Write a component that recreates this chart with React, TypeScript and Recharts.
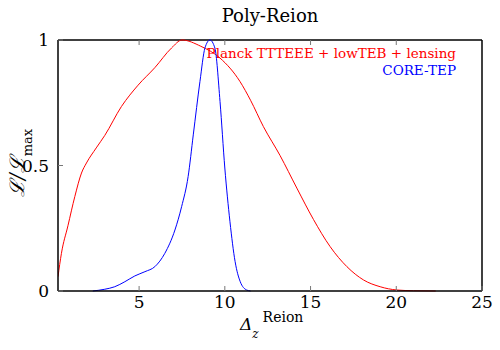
import { LineChart, Line, XAxis, YAxis, ReferenceLine } from 'recharts'

// Planck TTTEEE + lowTEB + lensing (red)
const planckX = [0.27, 0.47, 0.85, 1.25, 1.64, 1.93, 2.5, 3.0, 3.97, 4.94, 5.92, 6.89, 7.5, 8.6, 9.72, 10.88, 11.5, 12.25, 13.22, 14.2, 15.17, 16.14, 17.12, 18.09, 19.06, 20.03, 21.0, 22.3]
const planckY = [0.057, 0.15, 0.26, 0.376, 0.47, 0.51, 0.57, 0.62, 0.735, 0.82, 0.89, 0.968, 1.0, 0.975, 0.928, 0.835, 0.76, 0.655, 0.54, 0.41, 0.285, 0.177, 0.097, 0.044, 0.017, 0.004, 0.001, 0]

// CORE-TEP (blue)
const coreX = [2.3, 3.0, 3.58, 4.17, 4.75, 5.34, 5.92, 6.5, 7.09, 7.48, 7.86, 8.16, 8.55, 8.84, 9.13, 9.42, 9.72, 10.0, 10.3, 10.6, 10.9, 11.27, 11.5]
const coreY = [0, 0.007, 0.017, 0.037, 0.06, 0.077, 0.097, 0.15, 0.243, 0.336, 0.456, 0.622, 0.835, 0.968, 1.0, 0.968, 0.755, 0.49, 0.276, 0.117, 0.037, 0.004, 0]

const xTicks = [5, 10, 15, 20, 25]
const yTicks = [0, 0.5, 1]
const xMin = 0.27
const xMax = 25

const planckData = planckX.map((x, i) => ({ x, y: planckY[i] }))
const coreData = coreX.map((x, i) => ({ x, y: coreY[i] }))

const serif = 'DejaVu Serif'
const tickStyle = { fontSize: 17, fill: '#000', fontFamily: serif }
const frame = { stroke: '#000', strokeWidth: 1.5 }

export default function App() {
  return (
    <div style={{ position: 'absolute', left: 0, top: 0 }}>
      <LineChart width={500} height={350} margin={{ top: 40, right: 18, bottom: 0, left: 0 }}>
        <XAxis
          dataKey="x"
          type="number"
          domain={[xMin, xMax]}
          ticks={xTicks}
          allowDataOverflow
          height={59}
          tickSize={-5}
          tickMargin={10}
          tick={tickStyle}
          axisLine={frame}
          tickLine={{ stroke: '#777' }}
        />
        <YAxis
          type="number"
          domain={[0, 1]}
          ticks={yTicks}
          width={58}
          tickSize={-5}
          tickMargin={14}
          tick={tickStyle}
          axisLine={frame}
          tickLine={{ stroke: '#777' }}
        />
        {/* top and right sides of the box, plus inward top ticks */}
        <ReferenceLine y={1} stroke="#000" strokeWidth={1.5} />
        <ReferenceLine x={xMax} stroke="#000" strokeWidth={1.5} />
        {xTicks.slice(0, -1).map(t => (
          <ReferenceLine key={t} segment={[{ x: t, y: 1 }, { x: t, y: 0.98 }]} stroke="#777" />
        ))}
        <Line data={planckData} dataKey="y" type="monotone" stroke="#ff0000" strokeWidth={1} dot={false} isAnimationActive={false} />
        <Line data={coreData} dataKey="y" type="monotone" stroke="#0000ff" strokeWidth={1} dot={false} isAnimationActive={false} />

        <text x={270} y={22} textAnchor="middle" fontSize={18} fontFamily={serif} fill="#000">Poly-Reion</text>
        <text x={456} y={58} textAnchor="end" fontSize={13.5} fontFamily={serif} fill="#ff0000">Planck TTTEEE + lowTEB + lensing</text>
        <text x={456} y={75} textAnchor="end" fontSize={13.5} fontFamily={serif} fill="#0000ff">CORE-TEP</text>

        <text x={240} y={330} fontSize={17} fontFamily={serif} fontStyle="italic" fill="#000">
          Δ
          <tspan fontSize={12} dy={8}>z</tspan>
          <tspan fontSize={14} fontStyle="normal" dx={4} dy={-16}>Reion</tspan>
        </text>

        <text transform="translate(24,163) rotate(-90)" textAnchor="middle" fontSize={20} fontFamily={serif} fontStyle="italic" fill="#000">
          ℒ/ℒ
          <tspan fontSize={13} fontStyle="normal" dy={8}>max</tspan>
        </text>
      </LineChart>
    </div>
  )
}
